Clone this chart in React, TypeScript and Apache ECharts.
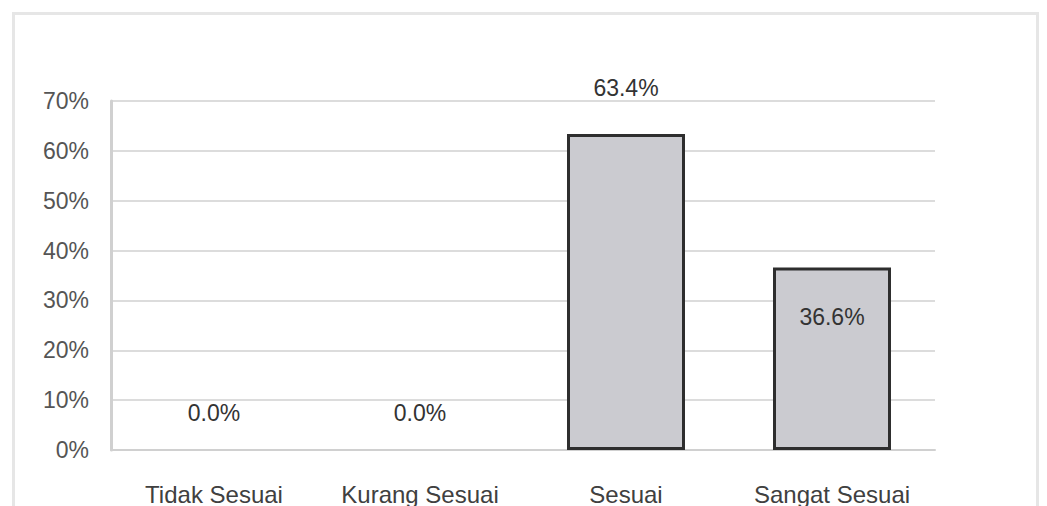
import React, { useEffect, useRef } from "react";
import * as echarts from "echarts";

const categories = ["Tidak Sesuai", "Kurang Sesuai", "Sesuai", "Sangat Sesuai"];
const values = [0.0, 0.0, 63.4, 36.6];
const yTicks = [0, 10, 20, 30, 40, 50, 60, 70];

export default function App() {
  const ref = useRef<HTMLDivElement>(null);
  useEffect(() => {
    if (!ref.current) return;
    const chart = echarts.init(ref.current, null, { renderer: "svg" });
    const font = "'Liberation Sans', Arial, sans-serif";
    const data = values.map((v, i) => {
      const base: any = { value: v };
      if (v === 0) {
        base.itemStyle = { borderWidth: 0 };
        base.label = { position: "top", distance: 26 };
      } else if (i === 2) {
        base.label = { position: "top", distance: 34 };
      } else {
        base.label = { position: "insideTop", distance: 38 };
      }
      return base;
    });
    chart.setOption({
      animation: false,
      backgroundColor: "#ffffff",
      graphic: [
        {
          type: "rect",
          shape: { x: 13.5, y: 13.5, width: 1024, height: 520 },
          style: { fill: "none", stroke: "#e6e6e6", lineWidth: 3 },
          silent: true,
        },
      ],
      grid: { left: 111, right: 112, top: 101, bottom: 54, containLabel: false },
      xAxis: {
        type: "category",
        data: categories,
        axisLine: { show: true, lineStyle: { color: "#d0d0d0", width: 2 } },
        axisTick: { show: false },
        axisLabel: {
          color: "#404040",
          fontFamily: font,
          fontSize: 24,
          margin: 32,
        },
      },
      yAxis: {
        type: "value",
        min: 0,
        max: 70,
        interval: 10,
        axisLine: { show: true, lineStyle: { color: "#d0d0d0", width: 3 } },
        axisTick: { show: false },
        splitLine: { lineStyle: { color: "#dcdcdc", width: 2 } },
        axisLabel: {
          color: "#555555",
          fontFamily: font,
          fontSize: 23,
          margin: 22,
          formatter: (v: number) => (yTicks.includes(v) ? v + "%" : ""),
        },
      },
      series: [
        {
          type: "bar",
          data,
          barWidth: 118,
          itemStyle: {
            color: "#cbcbd0",
            borderColor: "#2e2e2e",
            borderWidth: 3,
          },
          label: {
            show: true,
            color: "#333333",
            fontFamily: font,
            fontSize: 23,
            formatter: (p: any) => Number(p.value).toFixed(1) + "%",
          },
        },
      ],
    });
    return () => chart.dispose();
  }, []);
  return (
    <div
      ref={ref}
      style={{ position: "fixed", left: 0, top: 0, width: 1047, height: 506 }}
    />
  );
}
